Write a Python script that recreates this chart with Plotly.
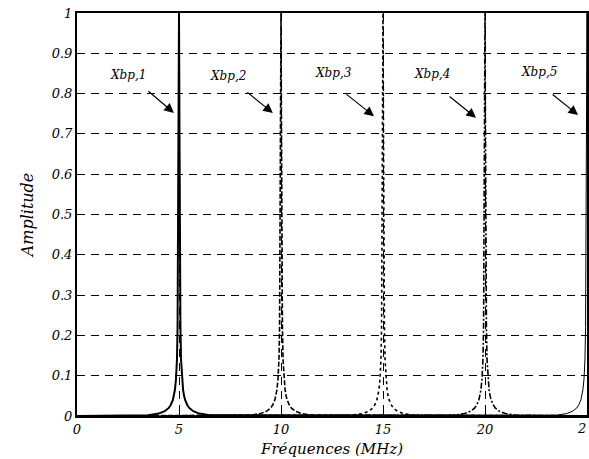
import plotly.graph_objects as go

# ---- data ----
centers = [5, 10, 15, 20, 25]
labels = ["Xbp,1", "Xbp,2", "Xbp,3", "Xbp,4", "Xbp,5"]

# frequency offsets (MHz) around each resonance
offsets = [-1.5, -1.0, -0.7, -0.5, -0.4, -0.3, -0.25, -0.2, -0.15, -0.1, -0.07, -0.04, -0.02,
           0.0, 0.02, 0.04, 0.07, 0.1, 0.15, 0.2, 0.25, 0.3, 0.4, 0.5, 0.7, 1.0, 1.5]

amp_1 = [0.002, 0.006, 0.012, 0.02, 0.028, 0.04, 0.05, 0.065, 0.09, 0.14, 0.22, 0.45, 0.75,
         1.0, 0.75, 0.45, 0.22, 0.14, 0.09, 0.065, 0.05, 0.04, 0.028, 0.02, 0.012, 0.006, 0.002]
amp_2 = [0.002, 0.006, 0.012, 0.02, 0.028, 0.04, 0.05, 0.065, 0.09, 0.14, 0.22, 0.45, 0.75,
         1.0, 0.75, 0.45, 0.22, 0.14, 0.09, 0.065, 0.05, 0.04, 0.028, 0.02, 0.012, 0.006, 0.002]
amp_3 = [0.002, 0.006, 0.012, 0.02, 0.028, 0.04, 0.05, 0.065, 0.09, 0.14, 0.22, 0.45, 0.75,
         1.0, 0.75, 0.45, 0.22, 0.14, 0.09, 0.065, 0.05, 0.04, 0.028, 0.02, 0.012, 0.006, 0.002]
amp_4 = [0.002, 0.006, 0.012, 0.02, 0.028, 0.04, 0.05, 0.065, 0.09, 0.14, 0.22, 0.45, 0.75,
         1.0, 0.75, 0.45, 0.22, 0.14, 0.09, 0.065, 0.05, 0.04, 0.028, 0.02, 0.012, 0.006, 0.002]
amp_5 = [0.002, 0.006, 0.012, 0.02, 0.028, 0.04, 0.05, 0.065, 0.09, 0.14, 0.22, 0.48, 0.75,
         1.0, 0.75, 0.45, 0.22, 0.14, 0.09, 0.065, 0.05, 0.04, 0.028, 0.02, 0.012, 0.006, 0.002]
amps = [amp_1, amp_2, amp_3, amp_4, amp_5]

# annotation positions (data units): text, arrow tail, arrow head
label_xy = [(2.5, 0.846), (7.4, 0.843), (12.55, 0.851), (17.4, 0.849), (22.65, 0.854)]
arrow_tail = [(3.43, 0.809), (8.28, 0.806), (13.14, 0.801), (18.19, 0.796), (23.24, 0.801)]
arrow_head = [(4.75, 0.752), (9.6, 0.752), (14.56, 0.744), (19.56, 0.74), (24.56, 0.747)]

x_ticks = [0, 5, 10, 15, 20]
x_ticktext = ["0", "5", "10", "15", "20"]
x_edge_tick = 25
x_edge_text = "2"
y_ticks = [0, 0.1, 0.2, 0.3, 0.4, 0.5, 0.6, 0.7, 0.8, 0.9, 1]

FONT = "DejaVu Serif"
dashes = ["solid", "5px,2px", "dot", "6px,2px,2px,2px", "solid"]
widths = [2, 1.6, 1.6, 1.6, 1]

fig = go.Figure()
for c, a, d, w in zip(centers, amps, dashes, widths):
    xs = [0] + [c + o for o in offsets] + [25]
    ys = [0] + a + [0]
    pairs = [(x, y) for x, y in zip(xs, ys) if 0 <= x <= 25.5]
    fig.add_trace(go.Scatter(x=[p[0] for p in pairs], y=[p[1] for p in pairs], mode="lines",
                             line=dict(color="black", width=w, dash=d), showlegend=False,
                             hoverinfo="skip"))

annotations = []
for lab, (tx, ty), (ax, ay), (hx, hy) in zip(labels, label_xy, arrow_tail, arrow_head):
    annotations.append(dict(x=tx, y=ty, xref="x", yref="y", text=lab, showarrow=False,
                            font=dict(family=FONT, size=12, color="black", style="italic")))
    annotations.append(dict(x=hx, y=hy, ax=ax, ay=ay, xref="x", yref="y", axref="x", ayref="y",
                            text="", showarrow=True, arrowhead=2, arrowsize=1.6, arrowwidth=1.2,
                            arrowcolor="black"))
# tick label at the clipped right edge
annotations.append(dict(x=x_edge_tick, y=0, xref="x", yref="y", text=x_edge_text, showarrow=False,
                        xanchor="right", yanchor="top", yshift=-3, xshift=1,
                        font=dict(family=FONT, size=13, color="black", style="italic")))

fig.update_layout(
    width=589, height=459,
    margin=dict(l=77, r=2, t=13, b=43),
    paper_bgcolor="white", plot_bgcolor="white",
    font=dict(family=FONT, size=13, color="black", style="italic"),
    annotations=annotations,
    xaxis=dict(range=[0, 25], tickvals=x_ticks, ticktext=x_ticktext,
               showgrid=True, gridcolor="black", gridwidth=1, griddash="8px,6px",
               showline=True, linecolor="black", linewidth=2, mirror=True,
               ticks="inside", ticklen=4, tickcolor="black", zeroline=False,
               title=dict(text="Fréquences (MHz)", font=dict(size=15, style="italic"), standoff=8),
               automargin=False),
    yaxis=dict(range=[0, 1], tickvals=y_ticks,
               showgrid=True, gridcolor="black", gridwidth=1, griddash="8px,6px",
               showline=True, linecolor="black", linewidth=2, mirror=True,
               ticks="inside", ticklen=4, tickcolor="black", zeroline=False,
               title=dict(text="Amplitude", font=dict(size=16, style="italic"), standoff=14),
               automargin=False),
)

fig.write_html("out.html", config={"displayModeBar": False},
               post_script="document.body.style.margin='0';document.body.style.overflow='hidden';")
